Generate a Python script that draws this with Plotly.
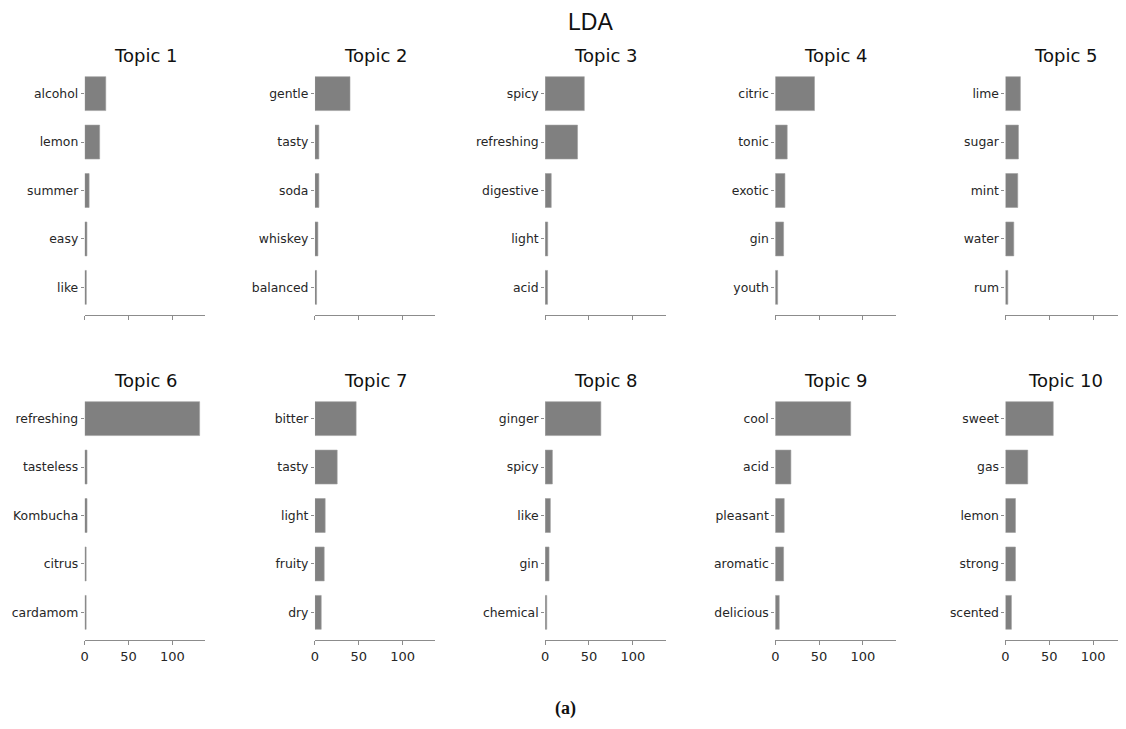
import plotly.graph_objects as go

topics = ["Topic 1", "Topic 2", "Topic 3", "Topic 4", "Topic 5",
          "Topic 6", "Topic 7", "Topic 8", "Topic 9", "Topic 10"]

words_1 = ["alcohol", "lemon", "summer", "easy", "like"]
vals_1 = [24, 17, 5, 2.5, 1.8]
words_2 = ["gentle", "tasty", "soda", "whiskey", "balanced"]
vals_2 = [40, 4.5, 4.5, 3.4, 1.9]
words_3 = ["spicy", "refreshing", "digestive", "light", "acid"]
vals_3 = [44.7, 37, 7, 3, 2.8]
words_4 = ["citric", "tonic", "exotic", "gin", "youth"]
vals_4 = [44.7, 13.6, 11, 9.5, 2.7]
words_5 = ["lime", "sugar", "mint", "water", "rum"]
vals_5 = [17, 14.8, 14, 9.5, 2.7]
words_6 = ["refreshing", "tasteless", "Kombucha", "citrus", "cardamom"]
vals_6 = [131, 2.6, 2.6, 1.6, 1.6]
words_7 = ["bitter", "tasty", "light", "fruity", "dry"]
vals_7 = [47, 25.4, 11.7, 10.6, 7.2]
words_8 = ["ginger", "spicy", "like", "gin", "chemical"]
vals_8 = [63.6, 8.3, 6, 4.5, 1.9]
words_9 = ["cool", "acid", "pleasant", "aromatic", "delicious"]
vals_9 = [86, 17.8, 10.2, 9.5, 4.5]
words_10 = ["sweet", "gas", "lemon", "strong", "scented"]
vals_10 = [54.5, 25.4, 11.4, 11.4, 6.8]

x_ticks = [0, 50, 100]

all_words = [words_1, words_2, words_3, words_4, words_5,
             words_6, words_7, words_8, words_9, words_10]
all_vals = [vals_1, vals_2, vals_3, vals_4, vals_5,
            vals_6, vals_7, vals_8, vals_9, vals_10]

W, H = 1126, 729
OFF = 8  # page body margin offset
FONT = "DejaVu Sans"
TXT = "#262626"
AXC = "#8c8c8c"

fig = go.Figure()
layout = dict(
    width=W, height=H, margin=dict(l=0, r=0, t=0, b=0),
    paper_bgcolor="white", plot_bgcolor="white", showlegend=False,
    font=dict(family=FONT, color=TXT, size=12.4),
)
annotations = []

def py(pix):
    return 1 - (pix - OFF) / H

def px(pix):
    return (pix - OFF) / W

row_dom = [(py(315), py(66)), (py(640), py(391))]

for i in range(10):
    r, c = divmod(i, 5)
    x0 = px(81 + 231 * c)
    x1 = px(202 + 231 * c)
    n = i + 1
    xa = "x" if n == 1 else f"x{n}"
    ya = "y" if n == 1 else f"y{n}"
    fig.add_trace(go.Bar(
        x=all_vals[i], y=all_words[i], orientation="h",
        marker=dict(color="#808080", line=dict(color="#a0a0a0", width=0.6)),
        width=0.7, xaxis=xa, yaxis=ya, hoverinfo="x+y",
    ))
    layout[f"xaxis{n}"] = dict(
        domain=[x0, x1], anchor=ya, range=[0, 137.5],
        showgrid=False, zeroline=False, showline=True, linecolor=AXC, linewidth=1,
        ticks="outside", ticklen=4, tickcolor=AXC, tickwidth=1,
        tickvals=x_ticks, showticklabels=(r == 1),
        tickfont=dict(family=FONT, size=13, color=TXT),
        fixedrange=True,
    )
    layout[f"yaxis{n}"] = dict(
        domain=list(row_dom[r]), anchor=xa, type="category",
        range=[4.57, -0.57],
        showgrid=False, zeroline=False, showline=False,
        ticks="outside", ticklen=3, tickcolor=AXC, tickwidth=1,
        tickfont=dict(family=FONT, size=12.4, color=TXT),
        fixedrange=True,
    )
    annotations.append(dict(
        text=topics[i], x=(x0 + x1) / 2,
        y=row_dom[r][1], xref="paper", yref="paper",
        xanchor="center", yanchor="bottom", yshift=-2, showarrow=False,
        font=dict(family=FONT, size=18, color="#111111"),
    ))

annotations.append(dict(
    text="LDA", x=px(589), y=py(22), xref="paper", yref="paper",
    xanchor="center", yanchor="middle", showarrow=False,
    font=dict(family="Liberation Sans", size=23, color="#111111"),
))
annotations.append(dict(
    text="<b>(a)</b>", x=px(563), y=py(708), xref="paper", yref="paper",
    xanchor="center", yanchor="middle", showarrow=False,
    font=dict(family="Liberation Serif", size=18, color="#111111"),
))
layout["annotations"] = annotations
fig.update_layout(**layout)
fig.write_html("out.html")
